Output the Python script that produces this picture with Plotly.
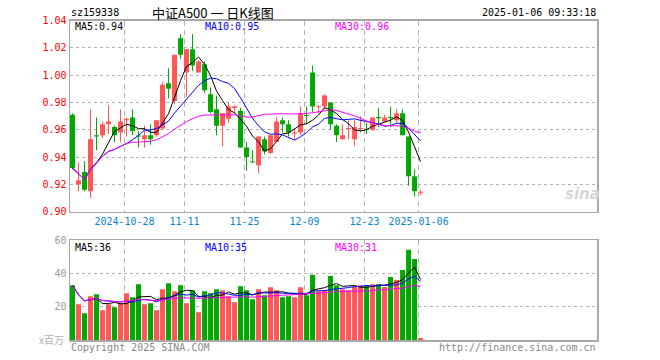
import plotly.graph_objects as go
import pandas as pd

# ---------------- data ----------------
dates = [
    "2024-10-15", "2024-10-16", "2024-10-17", "2024-10-18", "2024-10-21", "2024-10-22", "2024-10-23",
    "2024-10-24", "2024-10-25", "2024-10-28", "2024-10-29", "2024-10-30", "2024-10-31", "2024-11-01",
    "2024-11-04", "2024-11-05", "2024-11-06", "2024-11-07", "2024-11-08", "2024-11-11", "2024-11-12",
    "2024-11-13", "2024-11-14", "2024-11-15", "2024-11-18", "2024-11-19", "2024-11-20", "2024-11-21",
    "2024-11-22", "2024-11-25", "2024-11-26", "2024-11-27", "2024-11-28", "2024-11-29", "2024-12-02",
    "2024-12-03", "2024-12-04", "2024-12-05", "2024-12-06", "2024-12-09", "2024-12-10", "2024-12-11",
    "2024-12-12", "2024-12-13", "2024-12-16", "2024-12-17", "2024-12-18", "2024-12-19", "2024-12-20",
    "2024-12-23", "2024-12-24", "2024-12-25", "2024-12-26", "2024-12-27", "2024-12-30", "2024-12-31",
    "2025-01-02", "2025-01-03", "2025-01-06",
]
opens = [0.971, 0.920, 0.929, 0.915, 0.956, 0.956, 0.964, 0.962, 0.958, 0.967,
         0.969, 0.9555, 0.953, 0.956, 0.956, 0.961, 0.994, 0.981, 1.027, 1.002,
         1.019, 1.002, 1.008, 0.986, 0.975, 0.963, 0.968, 0.976, 0.974, 0.947,
         0.9365, 0.934, 0.953, 0.943, 0.951, 0.967, 0.964, 0.957, 0.958, 0.9705,
         1.002, 0.9765, 0.977, 0.980, 0.963, 0.953, 0.9605, 0.953, 0.9605, 0.9605,
         0.960, 0.969, 0.966, 0.969, 0.967, 0.972, 0.955, 0.926, 0.9138]
highs = [0.972, 0.936, 0.937, 0.975, 0.969, 0.966, 0.978, 0.963, 0.975, 0.969,
         0.975, 0.959, 0.963, 0.964, 0.967, 0.995, 1.005, 1.015, 1.030, 1.019,
         1.030, 1.011, 1.010, 0.991, 0.985, 0.972, 0.980, 0.978, 0.976, 0.951,
         0.945, 0.955, 0.955, 0.956, 0.969, 0.969, 0.967, 0.961, 0.977, 0.977,
         1.007, 0.978, 0.986, 0.980, 0.964, 0.964, 0.967, 0.967, 0.970, 0.965,
         0.969, 0.976, 0.971, 0.977, 0.975, 0.975, 0.955, 0.931, 0.916]
lows = [0.931, 0.915, 0.915, 0.910, 0.945, 0.954, 0.957, 0.951, 0.951, 0.955,
        0.956, 0.947, 0.947, 0.949, 0.955, 0.960, 0.983, 0.979, 1.012, 0.984,
        1.003, 1.002, 0.987, 0.972, 0.956, 0.948, 0.965, 0.972, 0.947, 0.930,
        0.936, 0.928, 0.942, 0.942, 0.951, 0.958, 0.955, 0.953, 0.956, 0.964,
        0.973, 0.972, 0.975, 0.960, 0.951, 0.953, 0.953, 0.948, 0.958, 0.957,
        0.959, 0.962, 0.966, 0.962, 0.965, 0.956, 0.919, 0.911, 0.912]
closes = [0.932, 0.923, 0.916, 0.953, 0.955, 0.964, 0.966, 0.956, 0.966, 0.968,
          0.959, 0.955, 0.956, 0.953, 0.967, 0.993, 0.990, 1.015, 1.015, 1.019,
          1.007, 1.010, 0.989, 0.973, 0.963, 0.972, 0.977, 0.977, 0.947, 0.940,
          0.936, 0.955, 0.944, 0.956, 0.966, 0.964, 0.958, 0.958, 0.972, 0.970,
          0.977, 0.977, 0.985, 0.964, 0.956, 0.956, 0.961, 0.962, 0.961, 0.960,
          0.969, 0.9685, 0.969, 0.9685, 0.972, 0.956, 0.926, 0.915, 0.9142]
volumes = [33.0, 21.6, 16.2, 26.4, 27.6, 18.0, 21.6, 19.8, 22.2, 28.2,
           25.8, 33.6, 21.6, 22.2, 18.0, 30.6, 34.2, 29.4, 33.0, 22.2,
           30.0, 16.8, 29.4, 28.2, 30.6, 30.0, 26.4, 22.8, 32.4, 30.0,
           24.6, 30.6, 27.0, 31.8, 30.0, 25.8, 26.4, 25.8, 31.8, 27.0,
           39.2, 29.4, 30.0, 38.4, 33.0, 30.6, 30.0, 31.9, 33.0, 33.0,
           33.6, 33.6, 31.9, 37.8, 36.0, 42.0, 54.1, 48.6, 1.4]

tick_dates = ["2024-10-28", "2024-11-11", "2024-11-25", "2024-12-09", "2024-12-23", "2025-01-06"]
tick_labels = ["2024-10-28", "11-11", "11-25", "12-09", "12-23", "2025-01-06"]

code_label = "sz159338"
title_text = "中证A500 一 日K线图"
time_label = "2025-01-06 09:33:18"

# ---------------- derived ----------------
n = len(dates)
idx = list(range(n))
cl = pd.Series(closes)
vs = pd.Series(volumes)
ma5 = cl.rolling(5, min_periods=1).mean()
ma10 = cl.rolling(10, min_periods=1).mean()
ma30 = cl.rolling(30, min_periods=1).mean()
vma5 = vs.rolling(5, min_periods=1).mean()
vma10 = vs.rolling(10, min_periods=1).mean()
vma30 = vs.rolling(30, min_periods=1).mean()

UP = "#ff5757"
DOWN = "#00a800"
up = [c >= o for o, c in zip(opens, closes)]
colors = [UP if u else DOWN for u in up]

W, H = 660, 360
def px(x): return x / W
def py(y): return 1 - y / H

fig = go.Figure()

# candle bodies
base = [min(o, c) for o, c in zip(opens, closes)]
body = [max(abs(c - o), 0.0008) for o, c in zip(opens, closes)]
fig.add_trace(go.Bar(x=idx, y=body, base=base, width=0.83, marker=dict(color=colors, line=dict(width=0)),
                     xaxis="x", yaxis="y", hoverinfo="skip"))
# wicks
for col, flag in ((UP, True), (DOWN, False)):
    wx, wy = [], []
    for i in idx:
        if up[i] == flag:
            wx += [i, i, None]
            wy += [lows[i], highs[i], None]
    fig.add_trace(go.Scatter(x=wx, y=wy, mode="lines", line=dict(color=col, width=1),
                             xaxis="x", yaxis="y", hoverinfo="skip"))
# price MAs
for s, col in ((ma5, "#000000"), (ma10, "#0000ff"), (ma30, "#ff00ff")):
    fig.add_trace(go.Scatter(x=idx, y=list(s), mode="lines", line=dict(color=col, width=1),
                             xaxis="x", yaxis="y", hoverinfo="skip"))

# volume bars
fig.add_trace(go.Bar(x=idx, y=volumes, width=0.83, marker=dict(color=colors, line=dict(width=0)),
                     xaxis="x2", yaxis="y2", hoverinfo="skip"))
for s, col in ((vma5, "#000000"), (vma10, "#0000ff"), (vma30, "#ff00ff")):
    fig.add_trace(go.Scatter(x=idx, y=list(s), mode="lines", line=dict(color=col, width=1),
                             xaxis="x2", yaxis="y2", hoverinfo="skip"))

tickvals = [dates.index(d) - 1 / 3 for d in tick_dates]
mono = "DejaVu Sans Mono"
frame = "#a8a8a8"
grid = "#b4b4b4"
xr = [-0.417, 87.4]

common_x = dict(domain=[px(70), px(597)], range=xr, tickvals=tickvals, ticktext=tick_labels,
                showgrid=True, gridcolor=grid, griddash="5px,4px", gridwidth=1,
                showline=True, mirror=True, linecolor=frame, linewidth=1.5,
                zeroline=False, ticks="", fixedrange=True, automargin=False)

fig.update_layout(
    width=W, height=H, margin=dict(l=0, r=0, t=0, b=0, pad=0), autosize=False,
    paper_bgcolor="white", plot_bgcolor="white", showlegend=False, barmode="overlay",
    xaxis=dict(**common_x, anchor="y", tickfont=dict(family=mono, size=10, color="#0a86d0")),
    yaxis=dict(domain=[py(211.7), py(20.5)], range=[0.90, 1.04], dtick=0.02, tick0=0.90,
               tickformat=".2f", tickfont=dict(family=mono, size=10, color="#ff0000"),
               showgrid=True, gridcolor=grid, griddash="dot", zeroline=False, automargin=False,
               showline=True, mirror=True, linecolor=frame, linewidth=1.5, ticks="", anchor="x",
               fixedrange=True),
    xaxis2=dict(**common_x, anchor="y2", showticklabels=False),
    yaxis2=dict(domain=[py(340.3), py(240)], range=[0, 60], tickvals=[20, 40, 60],
                tickfont=dict(family=mono, size=10, color="#9a9a9a"), automargin=False,
                showgrid=True, gridcolor=grid, griddash="dot", zeroline=False, fixedrange=True,
                showline=True, mirror=True, linecolor=frame, linewidth=1.5, ticks="", anchor="x2"),
)

def ann(text, x, y, xanchor="left", color="#000", size=10, family=mono, **kw):
    fig.add_annotation(text=text, x=px(x), y=py(y), xref="paper", yref="paper",
                       xanchor=xanchor, yanchor="middle", showarrow=False,
                       font=dict(family=family, size=size, color=color), **kw)

ann(code_label, 69, 13)
ann(title_text, 213, 13, xanchor="center", size=13, family="Noto Sans CJK SC, DejaVu Sans Mono")
ann(time_label, 598, 13, xanchor="right")
ann(f"MA5:{ma5.iloc[-1]:.2f}", 73, 27)
ann(f"MA10:{ma10.iloc[-1]:.2f}", 203, 27, color="#0000ff")
ann(f"MA30:{ma30.iloc[-1]:.2f}", 333, 27, color="#ff00ff")
ann(f"MA5:{int(vma5.iloc[-1])}", 73, 247)
ann(f"MA10:{int(vma10.iloc[-1])}", 203, 247, color="#0000ff")
ann(f"MA30:{int(vma30.iloc[-1])}", 333, 247, color="#ff00ff")
ann("x百万", 66, 339, xanchor="right", color="#b0b0b0", size=10, family="Noto Sans CJK SC")
ann("Copyright 2025 SINA.COM", 69, 347, color="#888888")
ann("http://finance.sina.com.cn", 598, 347, xanchor="right", color="#888888")
ann("<b><i>sina</i></b>", 582, 194, xanchor="center", color="#d6d6d6", size=15, family="DejaVu Sans")

fig.write_html("out.html", config={"displayModeBar": False, "staticPlot": True},
               post_script="document.body.style.margin='0';document.body.style.overflow='hidden';")
